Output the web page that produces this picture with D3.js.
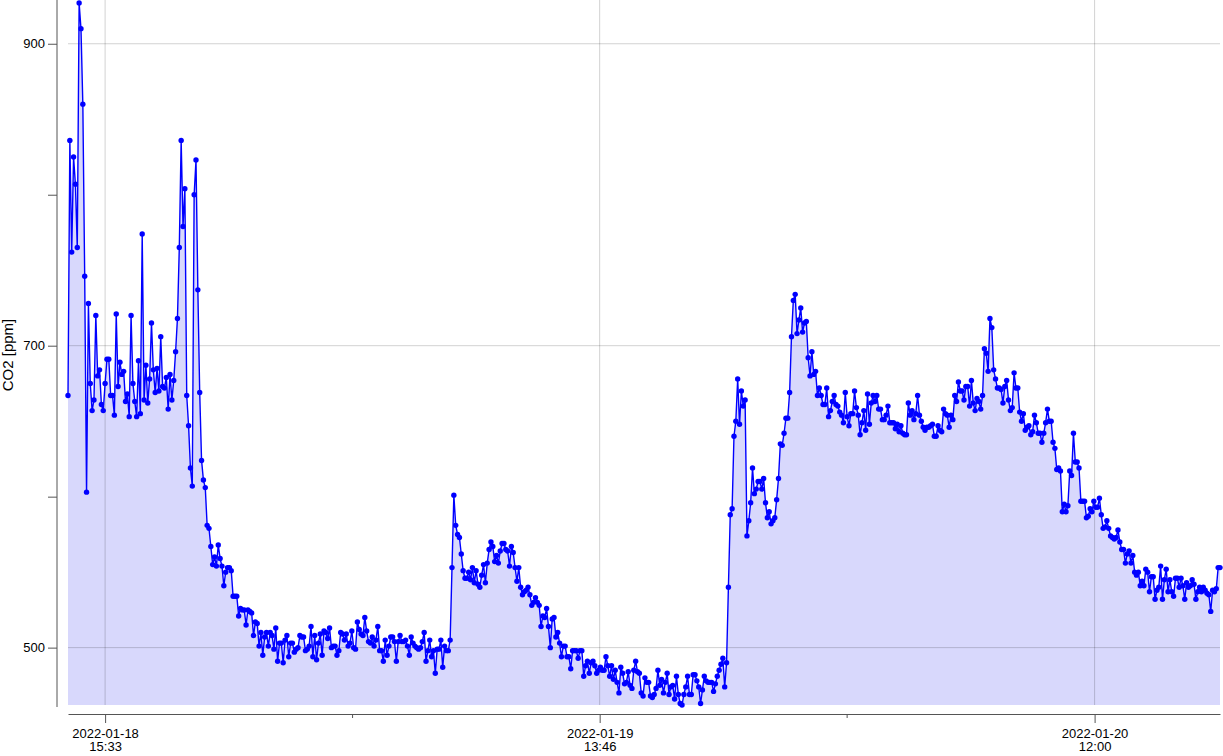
<!DOCTYPE html>
<html>
<head>
<meta charset="utf-8">
<script src="https://cdn.jsdelivr.net/npm/d3@7"></script>
<style>
body { margin: 0; background: #fff; }
text { font-family: "Liberation Sans", Arial, sans-serif; }
</style>
</head>
<body>
<div id="chart"></div>
<script>
// readings every 5 minutes starting at startTime
var startTime = "2022-01-18 13:53";
var stepMinutes = 5;

var co2 = [
  667, 836, 762, 825, 807, 765, 927, 910, 860, 746, 603, 728, 675, 657, 664, 720, 680, 684, 661, 657,
  675, 691, 691, 667, 667, 654, 721, 673, 689, 681, 683, 663, 668, 653, 720, 675, 663, 653, 690, 655,
  774, 664,
  687, 662, 678, 715, 684, 669, 685, 670, 706, 673, 672, 679, 658, 681, 664, 677, 696, 718, 765, 836,
  779, 804, 667, 647, 619, 607, 800, 823, 737, 669, 624, 611, 606,
  581, 579, 567, 555, 560, 554, 568, 559, 554, 541, 550, 553, 553, 551, 534, 534, 534, 521, 526, 525,
  525, 515, 525, 524, 523, 508, 517, 516, 501, 510, 495, 507, 510, 501, 510, 508, 499, 513, 491, 503,
  503, 490, 505, 508, 494, 503, 503, 497, 499, 500, 508, 507, 507, 498, 499, 501, 514, 494, 508, 492,
  503, 509, 495, 511, 510, 506, 513,
  500, 501, 501, 495, 498, 510, 509, 505, 509, 501, 503, 511, 500, 499, 517, 512, 509, 508, 520, 511,
  504, 503, 507, 501, 505, 514, 498, 498, 491, 505, 495, 501, 507, 507, 504, 491, 504, 508, 504, 504,
  505, 501, 495, 507, 503, 501, 500, 499, 500, 504, 510, 491, 498, 505, 494, 498, 483, 499, 499, 505,
  487, 501, 498, 498, 505,
  553, 601, 581, 575, 573, 562, 551, 546, 546, 550, 545, 553, 543, 551, 542, 540, 548, 555, 543, 556,
  565, 570, 567, 557, 561, 556, 564, 569, 569, 565, 564, 554, 567, 563, 553, 544, 553, 540, 535, 537,
  538, 540, 535, 528, 530, 533, 530, 528, 514, 521, 520, 526, 514, 500, 519, 520, 507, 510, 503, 494,
  501,
  501, 494, 494, 486, 498, 498, 498, 493, 498, 498, 481, 488, 491, 483, 490, 491, 488, 483, 485, 487,
  485, 485, 494, 488, 481, 488, 479, 485, 477, 470, 487, 483, 476, 477, 484, 475, 473, 485, 491, 484,
  483, 470, 468, 480, 477, 477, 468, 467, 469, 473, 485, 475, 479, 470, 477, 483, 469, 474, 475, 466,
  481, 469, 463, 462, 469, 474, 481, 469, 469, 482, 482, 478, 474, 463, 472, 481, 478, 477, 477, 477,
  471, 476,
  481, 485, 489, 493, 474, 490, 540, 588, 592, 640, 650, 678, 648, 670, 660, 664, 574, 584, 596, 619,
  602, 605, 610, 610, 605, 612, 596, 586, 590, 582, 584, 586, 598, 612, 635, 634, 642, 652, 652, 669,
  706, 730, 734, 708, 717, 725, 709, 715,
  716, 692, 680, 696, 681, 683, 667, 672, 667, 661, 661, 672, 653, 657, 663, 667, 661, 660, 656, 654,
  649, 669, 653, 647, 655, 655, 670, 659, 654, 641, 649, 657, 644, 668, 648, 662, 667, 663, 667, 658,
  658, 651, 651, 654, 660, 649, 649, 649, 645, 648, 643, 647, 642, 641,
  641, 662, 654, 657, 651, 655, 667, 654, 650, 646, 644, 646, 646, 647, 648, 640, 640, 647, 644, 643,
  658, 655, 654, 646, 654, 651, 667, 663, 676, 670, 670, 664, 673, 673, 660, 677, 662, 657, 665, 663,
  658, 667, 698, 695, 683, 718, 712, 684, 678, 672, 672, 671, 662, 673,
  677, 664, 657, 659, 682, 672, 672, 656, 650, 655, 644, 646, 647, 641, 643, 654, 649, 642, 642, 636,
  642, 649, 658, 650, 650, 636, 632, 618, 619, 617, 590, 595, 590, 594, 617, 614, 642, 623, 623, 619,
  597, 597, 597, 586, 587, 592, 590, 597, 593, 593, 599, 588, 579, 580, 584, 579, 574,
  573, 572, 573, 578, 570, 565, 565, 556, 562, 564, 556, 561, 550, 548, 550, 541, 544, 541, 552, 550,
  537, 547, 547, 532, 538, 540, 554, 532, 545, 552, 537, 545, 537, 534, 546, 546, 540, 546, 541, 532,
  543, 540, 541, 545, 542, 532, 537, 540, 537, 540, 538, 536, 535, 524, 538, 537, 539, 553, 553
];

var yTicks = [500, 600, 700, 800, 900];
var yLabelled = [500, 700, 900];
var xTicks = ["2022-01-18 15:33", "2022-01-19 13:46", "2022-01-20 12:00"];
var xMinorTicks = ["2022-01-19 02:40", "2022-01-20 00:53"];

var parse = d3.timeParse("%Y-%m-%d %H:%M");
var t0 = parse(startTime);
var data = co2.map(function(v, i) {
  return { t: d3.timeMinute.offset(t0, i * stepMinutes), v: v };
});

var width = 1223, height = 756;
var plotLeft = 68, plotRight = 1220, plotTop = 3, plotBottom = 705;

var svg = d3.select("#chart")
  .append("svg")
  .attr("width", width)
  .attr("height", height);

var x = d3.scaleTime()
  .domain(d3.extent(data, function(d) { return d.t; }))
  .range([plotLeft, plotRight]);

var y = d3.scaleLinear()
  .domain(d3.extent(co2))
  .range([plotBottom, plotTop]);

// filled area under the curve
var area = d3.area()
  .x(function(d) { return x(d.t); })
  .y0(plotBottom)
  .y1(function(d) { return y(d.v); });

svg.append("path")
  .datum(data)
  .attr("d", area)
  .attr("fill", "rgb(216,216,252)");

// grid
svg.append("g")
  .selectAll("line")
  .data(yLabelled)
  .enter()
  .append("line")
  .attr("x1", plotLeft)
  .attr("x2", plotRight)
  .attr("y1", function(d) { return y(d); })
  .attr("y2", function(d) { return y(d); })
  .attr("stroke", "#000")
  .attr("stroke-opacity", 0.18);

svg.append("g")
  .selectAll("line")
  .data(xTicks.map(parse))
  .enter()
  .append("line")
  .attr("x1", function(d) { return x(d); })
  .attr("x2", function(d) { return x(d); })
  .attr("y1", 0)
  .attr("y2", plotBottom)
  .attr("stroke", "#000")
  .attr("stroke-opacity", 0.18);

// line + points
var line = d3.line()
  .x(function(d) { return x(d.t); })
  .y(function(d) { return y(d.v); });

svg.append("path")
  .datum(data)
  .attr("d", line)
  .attr("fill", "none")
  .attr("stroke", "#0000ff")
  .attr("stroke-width", 1.4);

svg.append("g")
  .selectAll("circle")
  .data(data)
  .enter()
  .append("circle")
  .attr("cx", function(d) { return x(d.t); })
  .attr("cy", function(d) { return y(d.v); })
  .attr("r", 2.7)
  .attr("fill", "#0000ff");

// y axis
var yAxis = d3.axisLeft(y)
  .tickValues(yTicks)
  .tickFormat(function(d) { return yLabelled.indexOf(d) >= 0 ? d : ""; })
  .tickSizeInner(9)
  .tickSizeOuter(0)
  .tickPadding(3);

var gy = svg.append("g")
  .attr("transform", "translate(57,0)")
  .call(yAxis);
gy.select(".domain").attr("d", "M0,0V707").attr("stroke", "#555");
gy.selectAll(".tick line").attr("stroke", "#555");
gy.selectAll(".tick text").attr("font-size", 13).attr("fill", "#000")
  .attr("font-family", "Liberation Sans, Arial, sans-serif");

// x axis
var xAxis = d3.axisBottom(x)
  .tickValues(xTicks.map(parse))
  .tickFormat("")
  .tickSizeInner(9)
  .tickSizeOuter(0);

var gx = svg.append("g")
  .attr("transform", "translate(0,714)")
  .call(xAxis);
gx.select(".domain").attr("stroke", "#555");
gx.selectAll(".tick line").attr("stroke", "#555");

gx.selectAll(".minor")
  .data(xMinorTicks.map(parse))
  .enter()
  .append("line")
  .attr("x1", function(d) { return x(d); })
  .attr("x2", function(d) { return x(d); })
  .attr("y1", 0)
  .attr("y2", 4)
  .attr("stroke", "#555");

var fmtDay = d3.timeFormat("%Y-%m-%d"), fmtTime = d3.timeFormat("%H:%M");
var lbl = gx.selectAll(".tick")
  .append("text")
  .attr("fill", "#000")
  .attr("font-size", 13)
  .attr("font-family", "Liberation Sans, Arial, sans-serif")
  .attr("text-anchor", "middle");
lbl.append("tspan").attr("x", 0).attr("y", 24).text(function(d) { return fmtDay(d); });
lbl.append("tspan").attr("x", 0).attr("y", 37).text(function(d) { return fmtTime(d); });

// y label
svg.append("text")
  .attr("transform", "translate(13,355) rotate(-90)")
  .attr("text-anchor", "middle")
  .attr("font-size", 15)
  .attr("fill", "#000")
  .text("CO2 [ppm]");
</script>
</body>
</html>
